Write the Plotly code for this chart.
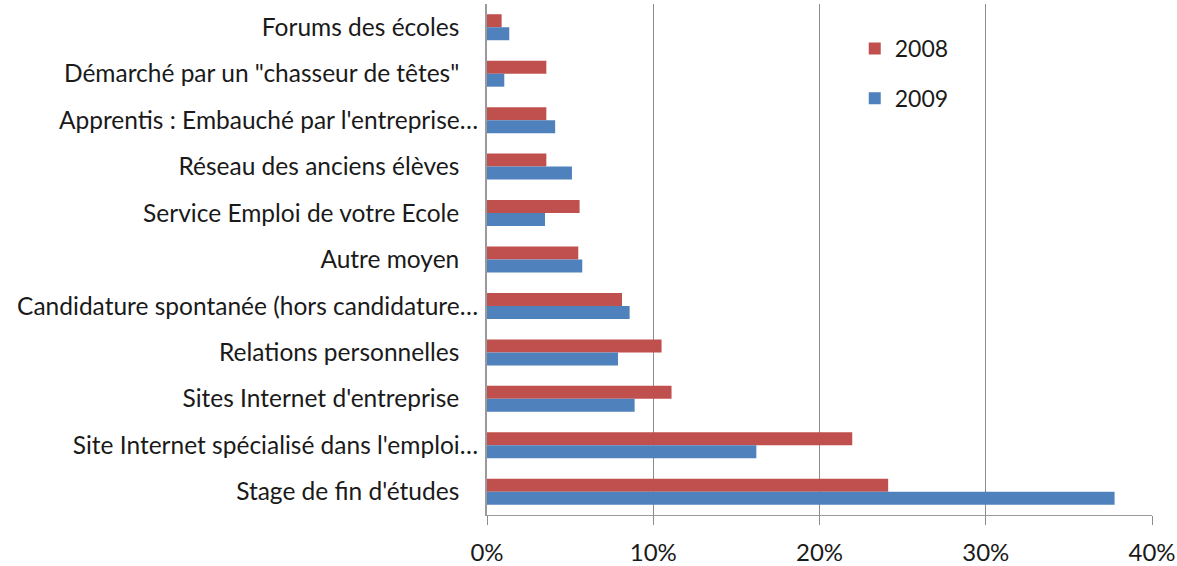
import plotly.graph_objects as go

categories = [
    "Forums des écoles",
    "Démarché par un \"chasseur de têtes\"",
    "Apprentis : Embauché par l'entreprise…",
    "Réseau des anciens élèves",
    "Service Emploi de votre Ecole",
    "Autre moyen",
    "Candidature spontanée (hors candidature…",
    "Relations personnelles",
    "Sites Internet d'entreprise",
    "Site Internet spécialisé dans l'emploi…",
    "Stage de fin d'études",
]
values_2008 = [0.88, 3.57, 3.57, 3.57, 5.57, 5.49, 8.12, 10.5, 11.1, 21.97, 24.13]
values_2009 = [1.34, 1.04, 4.1, 5.11, 3.49, 5.73, 8.58, 7.88, 8.88, 16.2, 37.75]
x_ticks = [0, 10, 20, 30, 40]
x_tick_labels = ["0%", "10%", "20%", "30%", "40%"]

tick_text = [c if c.endswith("…") else c + "\u00a0\u00a0\u00a0" for c in categories]

fig = go.Figure()
fig.add_trace(go.Bar(y=categories, x=values_2008, name="2008", orientation="h", legendgroup="a",
                     marker=dict(color="#C0504D", line=dict(width=0))))
fig.add_trace(go.Bar(y=categories, x=values_2009, name="2009", orientation="h", legendgroup="b",
                     marker=dict(color="#4F81BD", line=dict(width=0))))

fig.update_layout(
    width=1177, height=566,
    margin=dict(l=487, r=25, t=4, b=51),
    paper_bgcolor="white", plot_bgcolor="white",
    barmode="group", bargap=0.44, bargroupgap=0,
    font=dict(family="Lato, Carlito, Calibri, sans-serif", size=24.5, color="#1a1a1a"),
    legend=dict(x=0.553, y=0.955, xanchor="left", yanchor="top",
                bgcolor="rgba(0,0,0,0)", font=dict(size=23),
                itemwidth=30, traceorder="grouped", tracegroupgap=17),
    showlegend=True,
)
fig.update_yaxes(
    type="category", autorange="reversed", automargin=False,
    tickmode="array", tickvals=categories, ticktext=tick_text,
    showline=True, linecolor="#9a9a9a", linewidth=2,
    ticks="", showgrid=False, ticklabelstandoff=2,
)
fig.update_xaxes(
    range=[0, 40], tickmode="array", tickvals=x_ticks, ticktext=x_tick_labels,
    automargin=False,
    showline=True, linecolor="#9a9a9a", linewidth=1,
    showgrid=True, gridcolor="#8c8c8c", gridwidth=1,
    ticks="outside", ticklen=9, tickcolor="#8c8c8c",
    ticklabelstandoff=7, zeroline=False, tickfont=dict(size=24),
)

fig.write_html("out.html", config={"displayModeBar": False},
               post_script="document.body.style.margin='0';")
